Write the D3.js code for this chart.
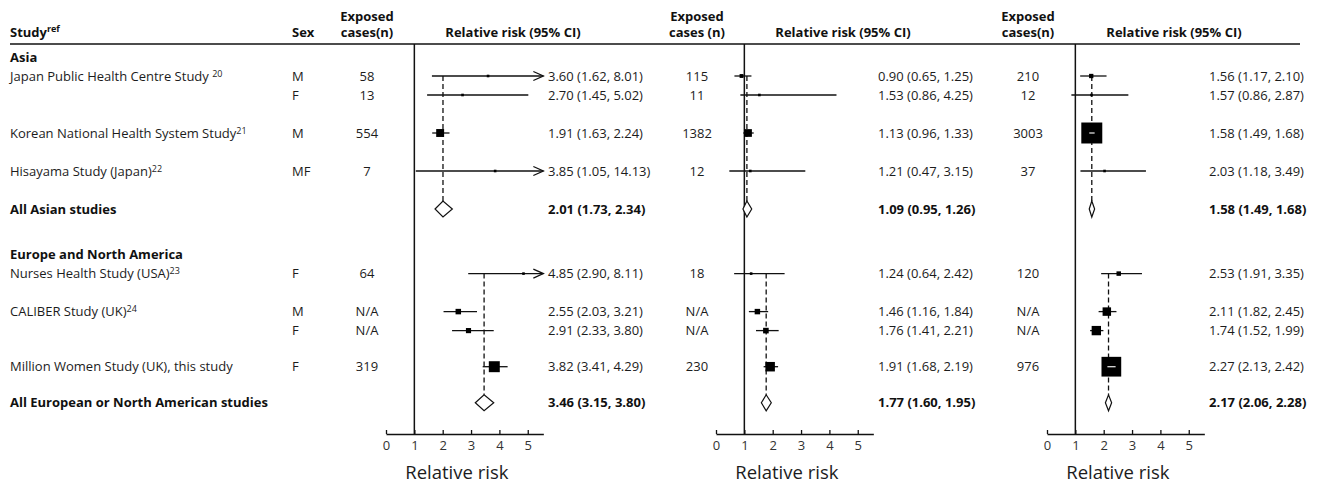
<!DOCTYPE html>
<html>
<head>
<meta charset="utf-8">
<script src="https://d3js.org/d3.v7.min.js"></script>
<style>
  body { margin: 0; background: #fff; }
  svg { font-family: "Open Sans", sans-serif; }
</style>
</head>
<body>
<script>
// ---------- data ----------
var studyNames = ["Japan Public Health Centre Study ", "", "Korean National Health System Study",
                  "Hisayama Study (Japan)", "Nurses Health Study (USA)", "CALIBER Study (UK)", "",
                  "Million Women Study (UK), this study"];
var studyRefs = ["20", "", "21", "22", "23", "24", "", ""];
var sexes = ["M", "F", "M", "MF", "F", "M", "F", "F"];
var rowGroup = [0, 0, 0, 0, 1, 1, 1, 1];
var groupNames = ["Asia", "Europe and North America"];
var pooledNames = ["All Asian studies", "All European or North American studies"];

// panel 1
var casesA = ["58", "13", "554", "7", "64", "N/A", "N/A", "319"];
var rrA = [3.60, 2.70, 1.91, 3.85, 4.85, 2.55, 2.91, 3.82];
var loA = [1.62, 1.45, 1.63, 1.05, 2.90, 2.03, 2.33, 3.41];
var hiA = [8.01, 5.02, 2.24, 14.13, 8.11, 3.21, 3.80, 4.29];
var pooledA = [[2.01, 1.73, 2.34], [3.46, 3.15, 3.80]];

// panel 2
var casesB = ["115", "11", "1382", "12", "18", "N/A", "N/A", "230"];
var rrB = [0.90, 1.53, 1.13, 1.21, 1.24, 1.46, 1.76, 1.91];
var loB = [0.65, 0.86, 0.96, 0.47, 0.64, 1.16, 1.41, 1.68];
var hiB = [1.25, 4.25, 1.33, 3.15, 2.42, 1.84, 2.21, 2.19];
var pooledB = [[1.09, 0.95, 1.26], [1.77, 1.60, 1.95]];

// panel 3
var casesC = ["210", "12", "3003", "37", "120", "N/A", "N/A", "976"];
var rrC = [1.56, 1.57, 1.58, 2.03, 2.53, 2.11, 1.74, 2.27];
var loC = [1.17, 0.86, 1.49, 1.18, 1.91, 1.82, 1.52, 2.13];
var hiC = [2.10, 2.87, 1.68, 3.49, 3.35, 2.45, 1.99, 2.42];
var pooledC = [[1.58, 1.49, 1.68], [2.17, 2.06, 2.28]];

var ticks = [0, 1, 2, 3, 4, 5];
var casesHeaders = ["cases(n)", "cases (n)", "cases(n)"];

// ---------- layout ----------
var rowSlot = [1, 2, 4, 6, 11.4, 13.4, 14.4, 16.3];
var groupSlot = [0, 10.4];
var pooledSlot = [8, 18.2];
var panelLeft = [386, 716, 1047];
var xMax = 5.55, unit = 28.35;
var axisY = 434, headerY = 44;

var panels = [
  {cases: casesA, rr: rrA, lo: loA, hi: hiA, pooled: pooledA},
  {cases: casesB, rr: rrB, lo: loB, hi: hiB, pooled: pooledB},
  {cases: casesC, rr: rrC, lo: loC, hi: hiC, pooled: pooledC}
];

var y = d3.scaleLinear().domain([0, 1]).range([57, 76]);
// box side follows precision (1 / standard error)
var boxSize = d3.scaleLinear().domain([0, 32.7]).range([0, 21]);
var f2 = d3.format(".2f");
function ciText(e, l, h) { return f2(e) + " (" + f2(l) + ", " + f2(h) + ")"; }

var svg = d3.select("body").append("svg")
  .attr("width", 1318).attr("height", 483);

var ink = "#1c1c1c";

// header
svg.append("line")
  .attr("x1", 10).attr("x2", 1300)
  .attr("y1", headerY).attr("y2", headerY)
  .attr("stroke", "#111").attr("stroke-width", 1.5);

var st = svg.append("text").attr("x", 10).attr("y", 37)
  .style("font-size", "13px").style("font-weight", "bold").attr("fill", "#111");
st.append("tspan").text("Study");
st.append("tspan").attr("dy", -5).style("font-size", "9px").text("ref");

svg.append("text").attr("x", 292).attr("y", 37)
  .style("font-size", "13px").style("font-weight", "bold").attr("fill", "#111")
  .text("Sex");

// left columns
var rowsG = svg.append("g").style("font-size", "13px").attr("fill", ink);

rowsG.selectAll(".grp").data(groupNames).enter().append("text")
  .attr("x", 10).attr("y", function(d, i) { return y(groupSlot[i]); })
  .attr("dy", "0.35em").style("font-weight", "bold").attr("fill", "#111")
  .text(function(d) { return d; });

rowsG.selectAll(".pool").data(pooledNames).enter().append("text")
  .attr("x", 10).attr("y", function(d, i) { return y(pooledSlot[i]); })
  .attr("dy", "0.35em").style("font-weight", "bold").attr("fill", "#111")
  .text(function(d) { return d; });

studyNames.forEach(function(name, i) {
  if (!name) return;
  var t = rowsG.append("text").attr("x", 10).attr("y", y(rowSlot[i])).attr("dy", "0.35em");
  t.append("tspan").text(name);
  t.append("tspan").attr("dy", -4).style("font-size", "9px").text(studyRefs[i]);
});

rowsG.selectAll(".sex").data(sexes).enter().append("text")
  .attr("x", 292).attr("y", function(d, i) { return y(rowSlot[i]); })
  .attr("dy", "0.35em").text(function(d) { return d; });

// panels
panels.forEach(function(p, k) {
  var x0 = panelLeft[k];
  var x = d3.scaleLinear().domain([0, xMax]).range([x0, x0 + xMax * unit]);
  var g = svg.append("g");

  // column headers
  var hd = g.append("g").style("font-size", "13px").style("font-weight", "bold")
    .attr("fill", "#111").attr("text-anchor", "middle");
  hd.append("text").attr("x", x0 - 19).attr("y", 21).text("Exposed");
  hd.append("text").attr("x", x0 - 19).attr("y", 37).text(casesHeaders[k]);
  hd.append("text").attr("x", x0 + 127).attr("y", 37).text("Relative risk (95% CI)");

  // cases
  g.selectAll(".cases").data(p.cases).enter().append("text")
    .attr("x", x0 - 19).attr("y", function(d, i) { return y(rowSlot[i]); })
    .attr("dy", "0.35em").attr("text-anchor", "middle")
    .style("font-size", "13px").attr("fill", ink)
    .text(function(d) { return d; });

  // null line
  g.append("line")
    .attr("x1", x(1)).attr("x2", x(1))
    .attr("y1", headerY).attr("y2", axisY)
    .attr("stroke", "#111").attr("stroke-width", 1.5);

  // pooled dashed lines
  p.pooled.forEach(function(q, gi) {
    var first = rowSlot[rowGroup.indexOf(gi)];
    g.append("line")
      .attr("x1", x(q[0])).attr("x2", x(q[0]))
      .attr("y1", y(first)).attr("y2", y(pooledSlot[gi]) - 8)
      .attr("stroke", "#111").attr("stroke-width", 1.3)
      .attr("stroke-dasharray", "5,3");
  });

  // study rows
  p.rr.forEach(function(e, i) {
    var yy = y(rowSlot[i]);
    var lo = p.lo[i], hi = p.hi[i];
    var right = Math.min(hi, xMax);
    g.append("line")
      .attr("x1", x(lo)).attr("x2", x(right))
      .attr("y1", yy).attr("y2", yy)
      .attr("stroke", "#111").attr("stroke-width", 1.3);
    if (hi > xMax) {
      g.append("path")
        .attr("d", "M" + (x(xMax) - 10) + "," + (yy - 4.5) + "L" + x(xMax) + "," + yy +
                   "L" + (x(xMax) - 10) + "," + (yy + 4.5))
        .attr("fill", "none").attr("stroke", "#111").attr("stroke-width", 1.3);
    }
    var se = (Math.log(hi) - Math.log(lo)) / 3.92;
    var s = Math.max(boxSize(1 / se), 2.6);
    g.append("rect")
      .attr("x", x(e) - s / 2).attr("y", yy - s / 2)
      .attr("width", s).attr("height", s).attr("fill", "#000");
    if (x(lo) > x(e) - s / 2 && x(hi) < x(e) + s / 2) {
      g.append("line")
        .attr("x1", x(lo)).attr("x2", x(hi))
        .attr("y1", yy).attr("y2", yy)
        .attr("stroke", "#ddd").attr("stroke-width", 1.3);
    }
    g.append("text")
      .attr("x", x0 + 162).attr("y", yy).attr("dy", "0.35em")
      .style("font-size", "13px").attr("fill", ink)
      .text(ciText(e, lo, hi));
  });

  // pooled diamonds
  p.pooled.forEach(function(q, gi) {
    var yy = y(pooledSlot[gi]);
    g.append("path")
      .attr("d", "M" + x(q[1]) + "," + yy + "L" + x(q[0]) + "," + (yy - 8) +
                 "L" + x(q[2]) + "," + yy + "L" + x(q[0]) + "," + (yy + 8) + "Z")
      .attr("fill", "#fff").attr("stroke", "#111").attr("stroke-width", 1.2);
    g.append("text")
      .attr("x", x0 + 162).attr("y", yy).attr("dy", "0.35em")
      .style("font-size", "13px").style("font-weight", "bold").attr("fill", "#111")
      .text(ciText(q[0], q[1], q[2]));
  });

  // axis
  var ax = g.append("g")
    .attr("transform", "translate(0," + axisY + ")")
    .call(d3.axisBottom(x).tickValues(ticks).tickFormat(d3.format("d"))
      .tickSizeInner(-4).tickSizeOuter(0).tickPadding(7));
  ax.select(".domain").attr("stroke", "#111").attr("stroke-width", 1.5);
  ax.selectAll(".tick line").attr("stroke", "#111").attr("stroke-width", 1.3);
  ax.selectAll(".tick text").style("font-size", "13px").style("font-family", "Open Sans")
    .attr("fill", "#333");

  g.append("text")
    .attr("x", x(2.5)).attr("y", 479).attr("text-anchor", "middle")
    .style("font-size", "18.5px").attr("fill", ink)
    .text("Relative risk");
});
</script>
</body>
</html>
